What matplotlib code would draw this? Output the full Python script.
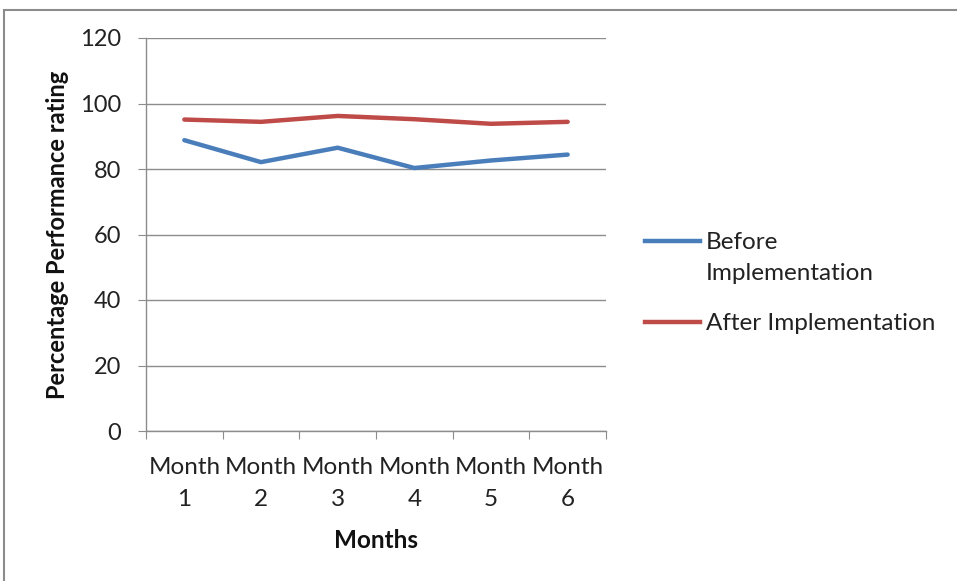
import matplotlib
matplotlib.use("Agg")
import matplotlib.pyplot as plt
from matplotlib.patches import Rectangle
from matplotlib.lines import Line2D

months = ["Month\n1", "Month\n2", "Month\n3", "Month\n4", "Month\n5", "Month\n6"]
before = [88.8, 82.1, 86.5, 80.3, 82.6, 84.4]
after = [95.1, 94.4, 96.2, 95.2, 93.8, 94.4]
series_names = ["Before\nImplementation", "After Implementation"]
y_ticks = [0, 20, 40, 60, 80, 100, 120]

plt.rcParams["font.family"] = ["Lato", "DejaVu Sans"]

W, H = 957, 581
fig = plt.figure(figsize=(W / 100, H / 100), dpi=100)
fig.patch.set_facecolor("white")

# outer chart frame
fig.patches.append(Rectangle((3.5 / W, -0.02), 1.1, 1 - 9.5 / H + 0.02,
                             transform=fig.transFigure, fill=False,
                             edgecolor="#8c8c8c", linewidth=1.5))

ax = fig.add_axes([146 / W, 1 - 431 / H, 460 / W, 393 / H])
x = [i + 0.5 for i in range(len(months))]
blue = "#4A7EBB"
red = "#BE4B48"
lw = 3.2
ax.plot(x, before, color=blue, linewidth=lw, solid_capstyle="round", zorder=3)
ax.plot(x, after, color=red, linewidth=lw, solid_capstyle="round", zorder=3)

ax.set_xlim(0, len(months))
ax.set_ylim(0, 120)
ax.set_yticks(y_ticks)
ax.set_xticks(range(len(months) + 1))
ax.set_xticklabels([])
ax.set_xticks(x, minor=True)
ax.set_xticklabels(months, minor=True, fontsize=17.5, color="#222222",
                   linespacing=1.65)
ax.tick_params(axis="x", which="minor", length=0, pad=19)
ax.tick_params(axis="x", which="major", length=6, color="#8c8c8c", direction="out")
ax.tick_params(axis="y", length=6, color="#8c8c8c", direction="out",
               labelsize=17, labelcolor="#222222", pad=12)

ax.grid(axis="y", color="#8c8c8c", linewidth=1)
ax.set_axisbelow(True)
for s in ["top", "right"]:
    ax.spines[s].set_visible(False)
for s in ["left", "bottom"]:
    ax.spines[s].set_color("#8c8c8c")
    ax.spines[s].set_linewidth(1)

ax.set_ylabel("Percentage Performance rating", fontsize=17, fontweight="bold",
              color="#111111", va="center")
ax.yaxis.set_label_coords((58 - 146) / 460, 0.5)
ax.set_xlabel("Months", fontsize=17.5, fontweight="bold", color="#111111",
              va="center")
ax.xaxis.set_label_coords(0.5, (431 - 540) / 393)

# legend: handle aligned with the first text line of each entry
def fpx(px, py):
    return px / W, 1 - py / H

legend_rows = [(241, blue, series_names[0]), (322, red, series_names[1])]
for py, col, name in legend_rows:
    x0, y0 = fpx(645, py)
    x1, _ = fpx(700, py)
    fig.add_artist(Line2D([x0, x1], [y0, y0], color=col, linewidth=lw,
                          transform=fig.transFigure))
    tx, ty = fpx(706, py - 9)
    fig.text(tx, ty, name, fontsize=17.5, color="#222222", va="top",
             ha="left", linespacing=1.6)

fig.savefig("out.png", dpi=100, facecolor="white")
